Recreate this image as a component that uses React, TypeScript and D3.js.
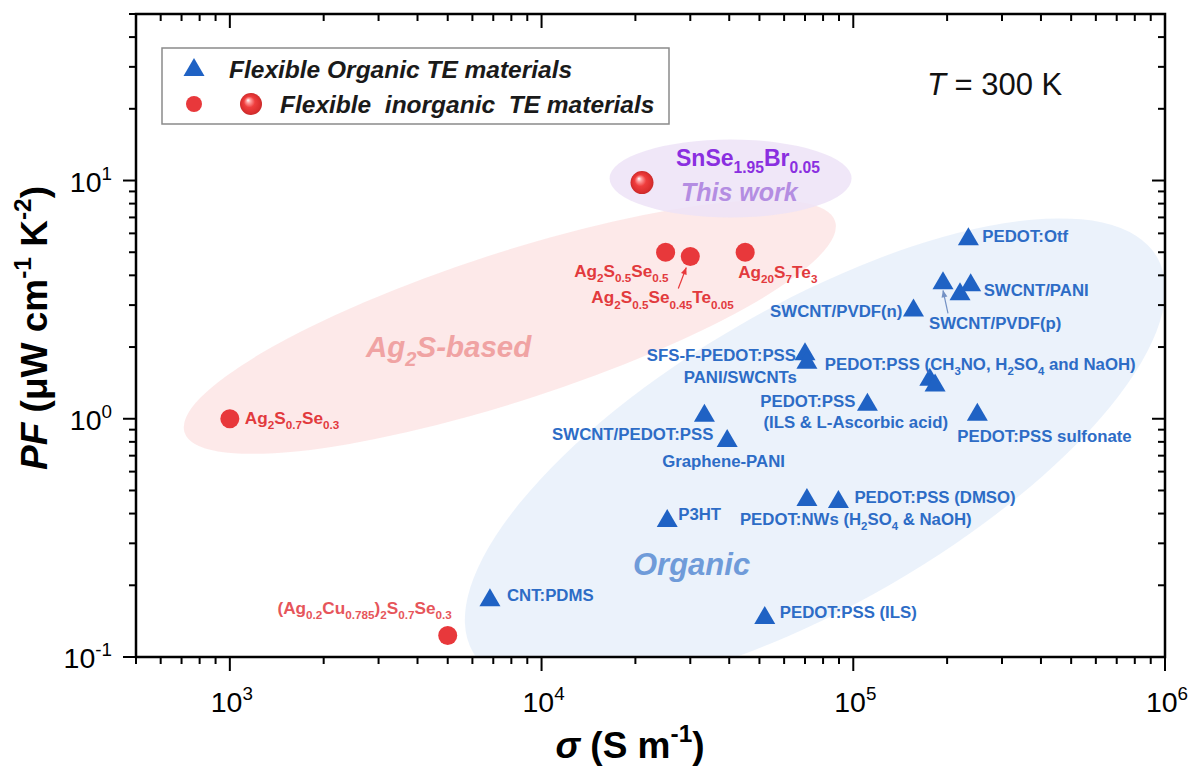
import React, { useRef, useEffect } from "react";
import * as d3 from "d3";

// organic TE materials (blue triangles)
const organicNames = [
  "PEDOT:Otf",
  "SWCNT/PVDF(p)",
  "SWCNT/PANI a",
  "SWCNT/PANI b",
  "SWCNT/PVDF(n)",
  "SFS-F-PEDOT:PSS",
  "PANI/SWCNTs",
  "PEDOT:PSS (CH3NO) a",
  "PEDOT:PSS (CH3NO) b",
  "PEDOT:PSS (ILS & L-Ascorbic acid)",
  "PEDOT:PSS sulfonate",
  "SWCNT/PEDOT:PSS",
  "Graphene-PANI",
  "PEDOT:NWs",
  "PEDOT:PSS (DMSO)",
  "P3HT",
  "CNT:PDMS",
  "PEDOT:PSS (ILS)",
];
const organicSigma = [
  2.34e5, 1.94e5, 2.2e5, 2.38e5, 1.56e5, 7.0e4, 7.1e4, 1.76e5, 1.83e5,
  1.11e5, 2.5e5, 3.33e4, 3.94e4, 7.1e4, 8.96e4, 2.53e4, 6.83e3, 5.2e4,
];
const organicPF = [
  5.84, 3.81, 3.43, 3.74, 2.93, 1.92, 1.77, 1.5, 1.42, 1.18, 1.07, 1.06, 0.83,
  0.47, 0.46, 0.383, 0.178, 0.15,
];

// inorganic TE materials (red circles)
const inorganicNames = [
  "Ag2S0.7Se0.3",
  "(Ag0.2Cu0.785)2S0.7Se0.3",
  "Ag2S0.5Se0.5",
  "Ag2S0.5Se0.45Te0.05",
  "Ag20S7Te3",
];
const inorganicSigma = [1000, 5000, 25000, 30000, 45000];
const inorganicPF = [1.0, 0.123, 5.0, 4.8, 5.0];

// this work
const thisWorkSigma = [21000];
const thisWorkPF = [9.8];

// axes
const xDomain = [500, 1e6];
const yDomain = [0.1, 50];
const xMajorTicks = [1e3, 1e4, 1e5, 1e6];
const xMajorExp = ["3", "4", "5", "6"];
const yMajorTicks = [0.1, 1, 10];
const yMajorExp = ["-1", "0", "1"];

const FONT = "'Liberation Sans', Arial, Helvetica, sans-serif";
const BLUE = "#1f62c4";
const BLUE_TXT = "#2d6cc6";
const RED = "#e8383b";
const RED_TXT = "#e23a3d";

// label layout: [markup, point index, dx, dy, anchor]
const organicLabelLayout: [string, number, number, number, string][] = [
  ["PEDOT:Otf", 0, 14, 6, "start"],
  ["SWCNT/PANI", 3, 13, 14, "start"],
  ["SWCNT/PVDF(p)", 1, -14, 49, "start"],
  ["SWCNT/PVDF(n)", 4, -11, 9, "end"],
  ["SFS-F-PEDOT:PSS", 5, -9, 10, "end"],
  ["PANI/SWCNTs", 6, -10, 23, "end"],
  ["PEDOT:PSS (CH_{3}NO, H_{2}SO_{4} and NaOH)", 7, -105, -7, "start"],
  ["PEDOT:PSS", 9, -12, 5, "end"],
  ["(ILS & L-Ascorbic acid)", 9, -104, 26, "start"],
  ["PEDOT:PSS sulfonate", 10, -20, 30, "start"],
  ["SWCNT/PEDOT:PSS", 11, 9, 27, "end"],
  ["Graphene-PANI", 12, -65, 29, "start"],
  ["PEDOT:PSS (DMSO)", 14, 16, 4, "start"],
  ["PEDOT:NWs (H_{2}SO_{4} & NaOH)", 13, -67, 28, "start"],
  ["P3HT", 15, 11, 2, "start"],
  ["CNT:PDMS", 16, 17, 4, "start"],
  ["PEDOT:PSS (ILS)", 17, 15, 3, "start"],
];
const inorganicLabelLayout: [string, number, number, number, string][] = [
  ["Ag_{2}S_{0.7}Se_{0.3}", 0, 15, 5, "start"],
  ["(Ag_{0.2}Cu_{0.785})_{2}S_{0.7}Se_{0.3}", 1, 4, -22, "end"],
  ["Ag_{2}S_{0.5}Se_{0.5}", 2, 3, 25, "end"],
  ["Ag_{2}S_{0.5}Se_{0.45}Te_{0.05}", 3, -99, 47, "start"],
  ["Ag_{20}S_{7}Te_{3}", 4, -7, 26, "start"],
];

// shaded regions: centre in data units, radii in px
const regions = [
  { sigma: 75400, pf: 0.706, rx: 395, ry: 150, rot: -30, fill: "#e8f0fa" },
  { sigma: 7910, pf: 2.43, rx: 342, ry: 74, rot: -18, fill: "#fde5e5" },
  { sigma: 40400, pf: 10.2, rx: 121, ry: 39, rot: 0, fill: "#ede3f7" },
];

function rich(sel: any, markup: string, size: number) {
  const parts = markup.match(/_\{[^}]*\}|\^\{[^}]*\}|\*[^*]*\*|[^_^*]+/g) || [];
  let cur = 0;
  parts.forEach((p) => {
    let txt = p;
    let off = 0;
    let fs = size;
    let italic = false;
    if (p.startsWith("_{")) {
      txt = p.slice(2, -1);
      off = size * 0.3;
      fs = size * 0.68;
    } else if (p.startsWith("^{")) {
      txt = p.slice(2, -1);
      off = -size * 0.42;
      fs = size * 0.66;
    } else if (p.startsWith("*")) {
      txt = p.slice(1, -1);
      italic = true;
    }
    const t = sel.append("tspan").attr("dy", off - cur).attr("font-size", fs).text(txt);
    if (italic) t.attr("font-style", "italic");
    cur = off;
  });
}

const Chart = () => {
  const svgRef = useRef<SVGSVGElement>(null);

  useEffect(() => {
    const width = 1195;
    const height = 767;
    const left = 136, right = 1165, top = 14, bottom = 657;

    const svg = d3
      .select(svgRef.current)
      .attr("width", width)
      .attr("height", height)
      .attr("font-family", FONT)
      .html("");

    const x = d3.scaleLog().domain(xDomain).range([left, right]);
    const y = d3.scaleLog().domain(yDomain).range([bottom, top]);

    const defs = svg.append("defs");
    defs
      .append("clipPath")
      .attr("id", "plotclip")
      .append("rect")
      .attr("x", left)
      .attr("y", top)
      .attr("width", right - left)
      .attr("height", bottom - top);

    const grad = defs
      .append("radialGradient")
      .attr("id", "sphere")
      .attr("cx", "50%")
      .attr("cy", "50%")
      .attr("r", "50%")
      .attr("fx", "36%")
      .attr("fy", "32%");
    [
      [0, "#ffffff"],
      [0.2, "#ff9c9c"],
      [0.5, "#ef3d3d"],
      [0.85, "#dc2f2f"],
      [1, "#c92a2a"],
    ].forEach(([o, c]) => grad.append("stop").attr("offset", o).attr("stop-color", c));

    // shaded regions
    const gReg = svg.append("g").attr("clip-path", "url(#plotclip)");
    regions.forEach((r) => {
      const cx = x(r.sigma), cy = y(r.pf);
      gReg
        .append("ellipse")
        .attr("cx", cx)
        .attr("cy", cy)
        .attr("rx", r.rx)
        .attr("ry", r.ry)
        .attr("transform", `rotate(${r.rot},${cx},${cy})`)
        .attr("fill", r.fill)
        .attr("fill-opacity", 0.85);
    });

    // region titles
    const ag = svg
      .append("text")
      .attr("x", 366)
      .attr("y", 357)
      .attr("fill", "#f0a3a3")
      .attr("font-weight", "bold")
      .attr("font-style", "italic")
      .attr("font-size", 29.5);
    rich(ag, "Ag_{2}S-based", 29.5);

    svg
      .append("text")
      .attr("x", 633)
      .attr("y", 575)
      .attr("fill", "#6f9bd9")
      .attr("font-weight", "bold")
      .attr("font-style", "italic")
      .attr("font-size", 31)
      .text("Organic");

    // arrows
    const arrow = (x1: number, y1: number, x2: number, y2: number, color: string) => {
      svg
        .append("line")
        .attr("x1", x1)
        .attr("y1", y1)
        .attr("x2", x2)
        .attr("y2", y2)
        .attr("stroke", color)
        .attr("stroke-width", 1.2);
      const a = Math.atan2(y2 - y1, x2 - x1);
      const L = 7, W = 3;
      const p1 = [x2 - L * Math.cos(a) + W * Math.sin(a), y2 - L * Math.sin(a) - W * Math.cos(a)];
      const p2 = [x2 - L * Math.cos(a) - W * Math.sin(a), y2 - L * Math.sin(a) + W * Math.cos(a)];
      svg
        .append("path")
        .attr("d", `M${x2},${y2}L${p1[0]},${p1[1]}L${p2[0]},${p2[1]}Z`)
        .attr("fill", color);
    };
    arrow(x(organicSigma[1]) + 5, y(organicPF[1]) + 33, x(organicSigma[1]), y(organicPF[1]) + 10, "#7391c4");
    arrow(x(inorganicSigma[3]) - 12, y(inorganicPF[3]) + 32, x(inorganicSigma[3]) - 4, y(inorganicPF[3]) + 11, RED);

    // triangles
    const tri = "M0,-9L10.5,9L-10.5,9Z";
    svg
      .append("g")
      .selectAll("path")
      .data(organicNames)
      .join("path")
      .attr("d", tri)
      .attr("transform", (_, i) => `translate(${x(organicSigma[i])},${y(organicPF[i])})`)
      .attr("fill", BLUE);

    // circles
    svg
      .append("g")
      .selectAll("circle")
      .data(inorganicNames)
      .join("circle")
      .attr("cx", (_, i) => x(inorganicSigma[i]))
      .attr("cy", (_, i) => y(inorganicPF[i]))
      .attr("r", 9.5)
      .attr("fill", RED);

    // this work sphere
    svg
      .append("circle")
      .attr("cx", x(thisWorkSigma[0]))
      .attr("cy", y(thisWorkPF[0]))
      .attr("r", 11.5)
      .attr("fill", "url(#sphere)");

    // point labels
    organicLabelLayout.forEach(([m, i, dx, dy, anchor]) => {
      const t = svg
        .append("text")
        .attr("x", x(organicSigma[i]) + dx)
        .attr("y", y(organicPF[i]) + dy)
        .attr("text-anchor", anchor)
        .attr("fill", BLUE_TXT)
        .attr("font-weight", "bold")
        .attr("font-size", 16.8)
        .style("white-space", "pre");
      rich(t, m, 16.8);
    });
    inorganicLabelLayout.forEach(([m, i, dx, dy, anchor]) => {
      const t = svg
        .append("text")
        .attr("x", x(inorganicSigma[i]) + dx)
        .attr("y", y(inorganicPF[i]) + dy)
        .attr("text-anchor", anchor)
        .attr("fill", i === 1 ? "#e6555a" : RED_TXT)
        .attr("font-weight", "bold")
        .attr("font-size", 17.2);
      rich(t, m, 17.2);
    });

    const sx = x(thisWorkSigma[0]), sy = y(thisWorkPF[0]);
    const sn = svg
      .append("text")
      .attr("x", sx + 34)
      .attr("y", sy - 17)
      .attr("fill", "#8a2fe0")
      .attr("font-weight", "bold")
      .attr("font-size", 23);
    rich(sn, "SnSe_{1.95}Br_{0.05}", 23);
    svg
      .append("text")
      .attr("x", sx + 39)
      .attr("y", sy + 18)
      .attr("fill", "#b48de2")
      .attr("font-weight", "bold")
      .attr("font-style", "italic")
      .attr("font-size", 25)
      .text("This work");

    // ticks
    const gAx = svg.append("g").attr("stroke", "#000").attr("stroke-width", 2);
    const xMinor: number[] = [];
    const yMinor: number[] = [];
    for (let e = 2; e <= 5; e++)
      for (let k = 2; k <= 9; k++) {
        const v = k * Math.pow(10, e);
        if (v >= xDomain[0] && v <= xDomain[1] && !xMajorTicks.includes(v)) xMinor.push(v);
      }
    for (let e = -1; e <= 1; e++)
      for (let k = 2; k <= 9; k++) {
        const v = k * Math.pow(10, e);
        if (v >= yDomain[0] && v <= yDomain[1] + 1e-9) yMinor.push(v);
      }
    const tick = (x1: number, y1: number, x2: number, y2: number) =>
      gAx.append("line").attr("x1", x1).attr("y1", y1).attr("x2", x2).attr("y2", y2);

    xMajorTicks.forEach((v) => {
      tick(x(v), bottom, x(v), bottom + 14);
      tick(x(v), top, x(v), top + 14);
    });
    xMinor.forEach((v) => {
      tick(x(v), bottom, x(v), bottom + 7);
      tick(x(v), top, x(v), top + 7);
    });
    yMajorTicks.forEach((v) => {
      tick(left - 13, y(v), left, y(v));
      tick(right - 13, y(v), right, y(v));
    });
    yMinor.forEach((v) => {
      tick(left - 7, y(v), left, y(v));
      tick(right - 7, y(v), right, y(v));
    });

    // frame
    svg
      .append("rect")
      .attr("x", left)
      .attr("y", top)
      .attr("width", right - left)
      .attr("height", bottom - top)
      .attr("fill", "none")
      .attr("stroke", "#000")
      .attr("stroke-width", 2.5);

    // tick labels
    xMajorTicks.forEach((v, i) => {
      const t = svg
        .append("text")
        .attr("x", x(v) + 2)
        .attr("y", 712)
        .attr("text-anchor", "middle")
        .attr("font-size", 28.5);
      rich(t, `10^{${xMajorExp[i]}}`, 28.5);
    });
    yMajorTicks.forEach((v, i) => {
      const t = svg
        .append("text")
        .attr("x", 112)
        .attr("y", y(v) + 11)
        .attr("text-anchor", "end")
        .attr("font-size", 28.5);
      rich(t, `10^{${yMajorExp[i]}}`, 28.5);
    });

    // axis titles
    const xt = svg
      .append("text")
      .attr("x", 630)
      .attr("y", 758)
      .attr("text-anchor", "middle")
      .attr("font-weight", "bold")
      .attr("font-size", 37)
      .style("white-space", "pre");
    rich(xt, "*σ* (S m^{-1})", 37);

    const yt = svg
      .append("text")
      .attr("transform", "translate(47,328) rotate(-90)")
      .attr("text-anchor", "middle")
      .attr("font-weight", "bold")
      .attr("font-size", 37)
      .style("white-space", "pre");
    rich(yt, "*PF* (μW cm^{-1} K^{-2})", 37);

    // temperature note
    const tt = svg
      .append("text")
      .attr("x", 927)
      .attr("y", 95)
      .attr("font-size", 31)
      .attr("fill", "#111")
      .style("white-space", "pre");
    rich(tt, "*T* = 300 K", 31);

    // legend
    svg
      .append("rect")
      .attr("x", 162)
      .attr("y", 48)
      .attr("width", 507)
      .attr("height", 76)
      .attr("fill", "none")
      .attr("stroke", "#8a8a8a")
      .attr("stroke-width", 1.5);
    svg.append("path").attr("d", tri).attr("transform", "translate(194,67)").attr("fill", BLUE);
    svg.append("circle").attr("cx", 194).attr("cy", 104).attr("r", 8).attr("fill", RED);
    svg.append("circle").attr("cx", 251).attr("cy", 104).attr("r", 11).attr("fill", "url(#sphere)");
    svg
      .append("text")
      .attr("x", 229)
      .attr("y", 78)
      .attr("font-size", 24.5)
      .attr("font-weight", "bold")
      .attr("font-style", "italic")
      .attr("fill", "#1a1a1a")
      .text("Flexible Organic TE materials");
    svg
      .append("text")
      .attr("x", 280)
      .attr("y", 113)
      .attr("font-size", 24.5)
      .attr("font-weight", "bold")
      .attr("font-style", "italic")
      .attr("fill", "#1a1a1a")
      .style("white-space", "pre")
      .text("Flexible  inorganic  TE materials");
  }, []);

  return <svg ref={svgRef} style={{ position: "absolute", left: 0, top: 0 }} />;
};

export default function App() {
  return <Chart />;
}
